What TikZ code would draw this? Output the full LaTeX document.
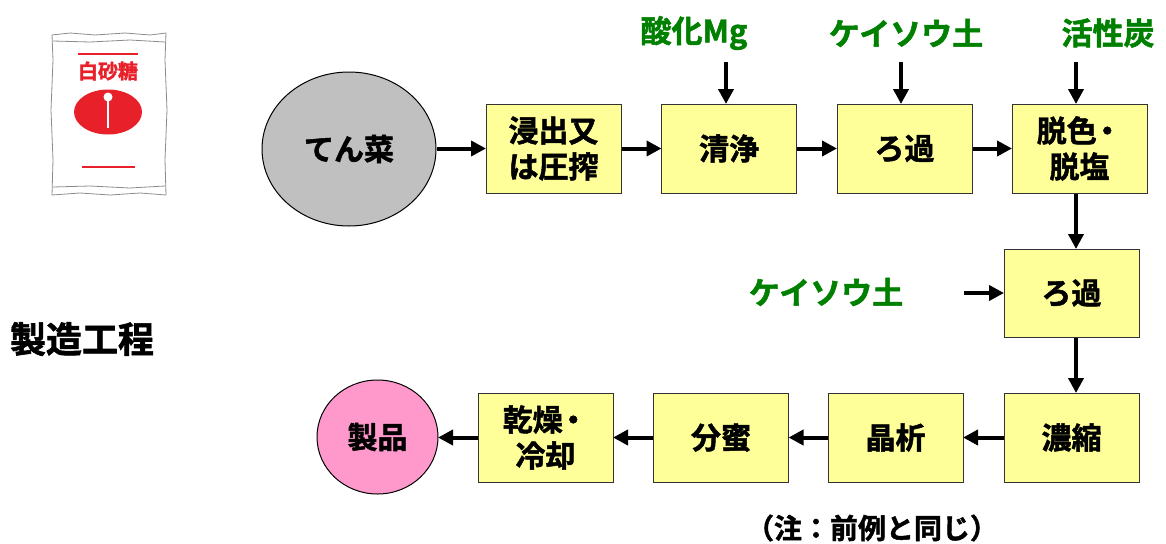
\documentclass[tikz,border=0pt]{standalone}
\usepackage{fontspec}
\setmainfont{Noto Sans CJK JP}[BoldFont={Noto Sans CJK JP Bold}, BoldFeatures={FakeBold=1.6}]
\usetikzlibrary{arrows.meta,shapes.geometric}
\definecolor{boxyellow}{HTML}{FFFF99}
\definecolor{rawgray}{HTML}{C0C0C0}
\definecolor{prodpink}{HTML}{FF99CC}
\definecolor{addgreen}{HTML}{008000}
\definecolor{bagred}{HTML}{E8202A}
\begin{document}
\begin{tikzpicture}[x=1pt,y=-1pt,
  stepbox/.style={draw=black!80, line width=1pt, fill=boxyellow,
    minimum width=135pt, minimum height=89pt, inner sep=0pt, align=center,
    font=\fontsize{30}{36}\selectfont\bfseries},
  endnode/.style={ellipse, draw=black, line width=1pt, inner sep=0pt,
    font=\fontsize{30}{36}\selectfont\bfseries},
  addlabel/.style={text=addgreen, inner sep=0pt,
    font=\fontsize{31}{36}\selectfont\bfseries},
  flow/.style={line width=4pt, -{Triangle[length=15pt,width=15pt]}, shorten >=-0.5pt},
]
\useasboundingbox (0,0) rectangle (1166,543);

% sugar bag
\begin{scope}[draw=black!45, line width=0.8pt]
  \draw (52,35) -- (70,33) -- (95,35) -- (125,33) -- (150,35) -- (166,33)
        -- (165,60) -- (167,110) -- (165,160) -- (166,195)
        -- (140,193) -- (110,195) -- (80,193) -- (52,195)
        -- (53,160) -- (51,110) -- (53,60) -- cycle;
  \draw (53,41) -- (90,42) -- (130,40) -- (165,42);
  \draw (53,187) -- (90,186) -- (130,188) -- (165,186);
\end{scope}
\draw[bagred, line width=2pt] (78,54) -- (138,54);
\node[text=bagred, inner sep=0pt, font=\fontsize{20}{22}\selectfont\bfseries] (bagtitle) at (108,71) {白砂糖};
\node[ellipse, fill=bagred, minimum width=68pt, minimum height=45pt, inner sep=0pt] (baglogo) at (108,112) {};
\draw[white, line width=2pt] (108,99) -- (108,128);
\fill[white] (108,97) circle (4.5pt);
\draw[bagred, line width=2pt] (82,167) -- (135,167);

% heading
\node[inner sep=0pt, font=\fontsize{36}{40}\selectfont\bfseries] (title) at (82,339) {製造工程};

% process steps
\node[endnode, fill=rawgray, minimum width=174pt, minimum height=154pt] (beet) at (349,149) {てん菜};
\node[stepbox] (b1) at (553.5,148.5) {浸出又\\は圧搾};
\node[stepbox] (b2) at (729,148.5) {清浄};
\node[stepbox] (b3) at (904.5,148.5) {ろ過};
\node[stepbox] (b4) at (1079.5,148.5) {脱色\kern-0.15em・\\脱塩};
\node[stepbox, minimum height=88pt] (b5) at (1071.5,293) {ろ過};
\node[stepbox] (b6) at (1071.5,437.5) {濃縮};
\node[stepbox] (b7) at (895.5,437.5) {晶析};
\node[stepbox] (b8) at (721,437.5) {分蜜};
\node[stepbox] (b9) at (545.5,437.5) {乾燥\kern-0.15em・\\冷却};
\node[endnode, fill=prodpink, minimum width=121pt, minimum height=114pt] (product) at (377.5,437) {製品};

% additives
\node[addlabel] (a1) at (694,33) {酸化Mg};
\node[addlabel] (a2) at (906,33) {ケイソウ土};
\node[addlabel] (a3) at (1108,33) {活性炭};
\node[addlabel] (a4) at (826,292) {ケイソウ土};
\coordinate (a1s) at (726,62);
\coordinate (a2s) at (901,62);
\coordinate (a3s) at (1076,62);
\coordinate (a4s) at (964,293);

% note
\node[inner sep=0pt, font=\fontsize{28}{32}\selectfont\bfseries] (note) at (872,528) {（注：前例と同じ）};

% flow
\draw[flow] (beet.east |- b1.west) -- (b1.west);
\draw[flow] (b1.east) -- (b2.west);
\draw[flow] (b2.east) -- (b3.west);
\draw[flow] (b3.east) -- (b4.west);
\draw[flow] ([xshift=-3.5pt]b4.south) -- ([xshift=-3.5pt]b4.south |- b5.north);
\draw[flow] ([xshift=4.5pt]b5.south) -- ([xshift=4.5pt]b5.south |- b6.north);
\draw[flow] (b6.west) -- (b7.east);
\draw[flow] (b7.west) -- (b8.east);
\draw[flow] (b8.west) -- (b9.east);
\draw[flow] (b9.west) -- (product.east |- b9.west);
\draw[flow] (a1s) -- (a1s |- b2.north);
\draw[flow] (a2s) -- (a2s |- b3.north);
\draw[flow] (a3s) -- (a3s |- b4.north);
\draw[flow] (a4s) -- (b5.west);
\end{tikzpicture}
\end{document}
